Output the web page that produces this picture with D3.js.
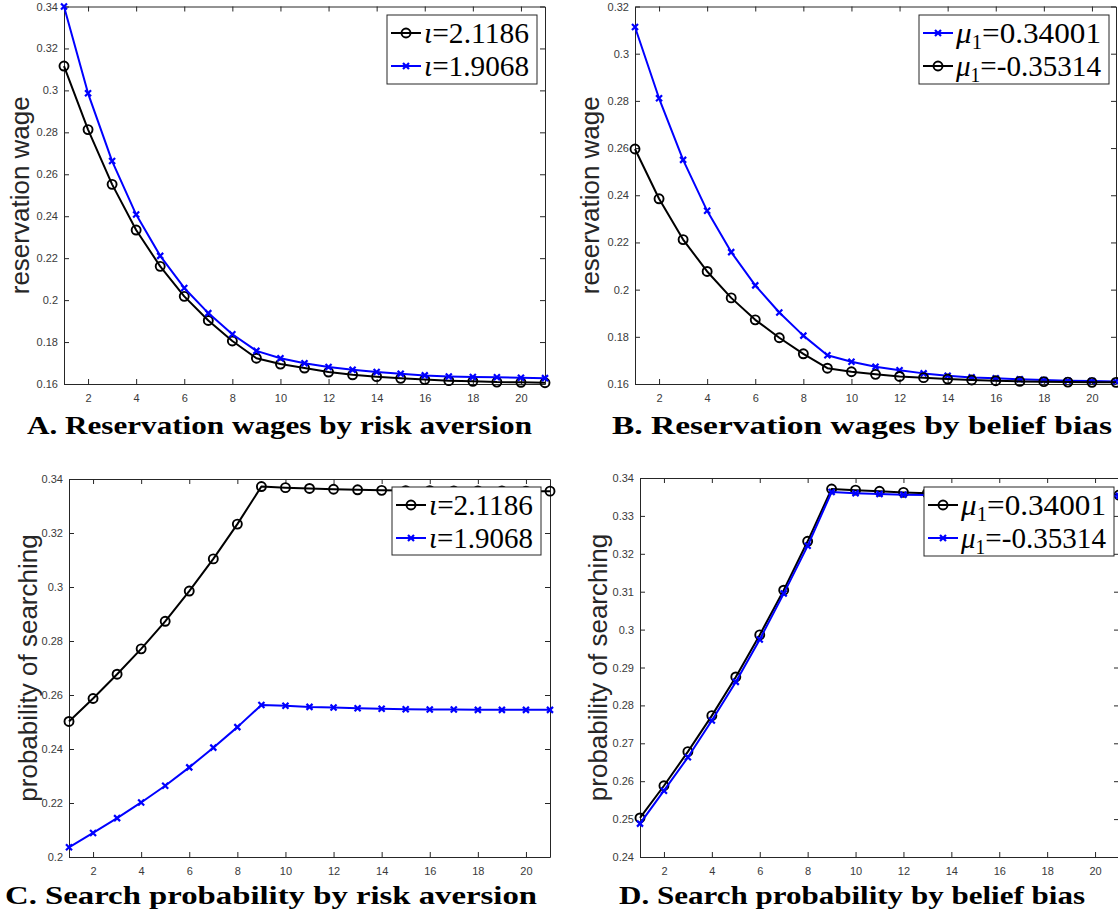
<!DOCTYPE html>
<html>
<head>
<meta charset="utf-8">
<script src="https://cdn.jsdelivr.net/npm/d3@7"></script>
<style>
  body { margin: 0; background: #fff; }
</style>
</head>
<body>
<div class="canvas"></div>
<script>
// x axis: search period
const periods = [1, 2, 3, 4, 5, 6, 7, 8, 9, 10, 11, 12, 13, 14, 15, 16, 17, 18, 19, 20, 21];
const xTicks = [2, 4, 6, 8, 10, 12, 14, 16, 18, 20];

// A. reservation wages, risk aversion
const wageIota21186 = [0.3116, 0.2813, 0.2552, 0.2334, 0.2161, 0.2018, 0.1903, 0.1805, 0.1723, 0.1695, 0.1676,
                       0.1657, 0.1644, 0.1635, 0.1627, 0.1621, 0.1616, 0.1613, 0.1609, 0.1608, 0.1606];
const wageIota19068 = [0.3400, 0.2986, 0.2663, 0.2408, 0.2211, 0.2058, 0.1938, 0.1837, 0.1758, 0.1723, 0.1699,
                       0.1681, 0.1668, 0.1657, 0.1649, 0.1641, 0.1636, 0.1633, 0.1632, 0.1630, 0.1628];
const wageTicksA = [0.16, 0.18, 0.2, 0.22, 0.24, 0.26, 0.28, 0.3, 0.32, 0.34];

// B. reservation wages, belief bias
const wageMu034001 = [0.3113, 0.2811, 0.2550, 0.2334, 0.2159, 0.2018, 0.1903, 0.1805, 0.1722, 0.1694, 0.1673,
                      0.1658, 0.1645, 0.1635, 0.1628, 0.1624, 0.1620, 0.1617, 0.1614, 0.1613, 0.1611];
const wageMuNeg035314 = [0.2596, 0.2385, 0.2212, 0.2077, 0.1965, 0.1872, 0.1796, 0.1728, 0.1667, 0.1652, 0.1641,
                         0.1632, 0.1627, 0.1621, 0.1617, 0.1614, 0.1611, 0.1610, 0.1608, 0.1607, 0.1607];
const wageTicksB = [0.16, 0.18, 0.2, 0.22, 0.24, 0.26, 0.28, 0.3, 0.32];

// C. search probability, risk aversion
const searchIota21186 = [0.2502, 0.2587, 0.2677, 0.2771, 0.2873, 0.2985, 0.3104, 0.3233, 0.3372, 0.3368, 0.3365,
                         0.3362, 0.3360, 0.3358, 0.3357, 0.3357, 0.3356, 0.3356, 0.3356, 0.3355, 0.3355];
const searchIota19068 = [0.2036, 0.2089, 0.2144, 0.2202, 0.2264, 0.2332, 0.2405, 0.2481, 0.2563, 0.2560, 0.2556,
                         0.2554, 0.2551, 0.2549, 0.2547, 0.2546, 0.2546, 0.2545, 0.2545, 0.2545, 0.2545];
const searchTicksC = [0.2, 0.22, 0.24, 0.26, 0.28, 0.3, 0.32, 0.34];

// D. search probability, belief bias
const searchMu034001 = [0.2503, 0.2588, 0.2678, 0.2773, 0.2875, 0.2986, 0.3104, 0.3233, 0.3371, 0.3368, 0.3365,
                        0.3362, 0.3360, 0.3358, 0.3357, 0.3357, 0.3356, 0.3356, 0.3356, 0.3355, 0.3355];
const searchMuNeg035314 = [0.2488, 0.2575, 0.2663, 0.2760, 0.2862, 0.2974, 0.3095, 0.3221, 0.3363, 0.3360, 0.3358,
                           0.3356, 0.3355, 0.3354, 0.3354, 0.3354, 0.3353, 0.3353, 0.3353, 0.3353, 0.3353];
const searchTicksD = [0.24, 0.25, 0.26, 0.27, 0.28, 0.29, 0.3, 0.31, 0.32, 0.33, 0.34];

const axisColor = "#262626";

const svg = d3.select(".canvas").append("svg")
  .attr("width", 1118)
  .attr("height", 915)
  .style("font-family", "'Liberation Sans', Arial, sans-serif");

function translate(x, y) {
  return "translate(" + x + "," + y + ")";
}

function iotaLabel(t, val) {
  t.append("tspan").attr("font-style", "italic").text("ι");
  t.append("tspan").text("=" + val);
}

function muLabel(t, val) {
  t.append("tspan").attr("font-style", "italic").text("μ");
  t.append("tspan").attr("font-size", 20).attr("dy", 6).text("1");
  t.append("tspan").attr("dy", -6).text("=" + val);
}

function drawMarker(sel, kind, color) {
  if (kind === "o") {
    sel.append("circle").attr("r", 4.5)
      .attr("fill", "none").attr("stroke", color).attr("stroke-width", 1.9);
  } else {
    sel.append("path").attr("d", "M-3,-3L3,3M-3,3L3,-3")
      .attr("fill", "none").attr("stroke", color).attr("stroke-width", 2.2);
  }
}

function drawPanel(p) {
  const x = d3.scaleLinear().domain([1, 21]).range([p.left, p.right]);
  const y = d3.scaleLinear().domain([p.yTicks[0], p.yTicks[p.yTicks.length - 1]]).range([p.bottom, p.top]);
  const g = svg.append("g");
  const fmt = d => String(+d.toFixed(2));

  const gx = g.append("g").attr("transform", translate(0, p.bottom))
    .call(d3.axisBottom(x).tickValues(xTicks).tickSizeInner(-5).tickSizeOuter(0).tickPadding(10));
  const gxTop = g.append("g").attr("transform", translate(0, p.top))
    .call(d3.axisTop(x).tickValues(xTicks).tickSizeInner(-5).tickSizeOuter(0).tickFormat(""));
  const gy = g.append("g").attr("transform", translate(p.left, 0))
    .call(d3.axisLeft(y).tickValues(p.yTicks).tickSizeInner(-5).tickSizeOuter(0).tickPadding(6).tickFormat(fmt));
  const gyRight = g.append("g").attr("transform", translate(p.right, 0))
    .call(d3.axisRight(y).tickValues(p.yTicks).tickSizeInner(-5).tickSizeOuter(0).tickFormat(""));

  [gx, gxTop, gy, gyRight].forEach(a => {
    a.selectAll(".domain, .tick line").attr("stroke", axisColor).attr("stroke-width", 1);
    a.selectAll("text").attr("fill", "#3a3a3a").attr("font-size", 11)
      .attr("font-family", "'Liberation Sans', Arial, sans-serif");
  });

  // y label
  g.append("text")
    .attr("transform", translate(p.ylabelX, (p.top + p.bottom) / 2) + " rotate(-90)")
    .attr("text-anchor", "middle")
    .attr("font-size", 26)
    .attr("fill", axisColor)
    .text(p.ylabel);

  // series
  const line = d3.line().x((d, i) => x(periods[i])).y(d => y(d));
  p.series.forEach(s => {
    g.append("path").datum(s.values)
      .attr("d", line)
      .attr("fill", "none")
      .attr("stroke", s.color)
      .attr("stroke-width", 2)
      .attr("stroke-linejoin", "round");
    g.selectAll(null).data(s.values).join("g")
      .attr("transform", (d, i) => translate(x(periods[i]), y(d)))
      .each(function () { drawMarker(d3.select(this), s.marker, s.color); });
  });

  // legend
  const lg = g.append("g").attr("transform", translate(p.legend.x, p.legend.y));
  lg.append("rect")
    .attr("width", p.legend.w).attr("height", p.legend.h)
    .attr("fill", "#fff").attr("stroke", axisColor).attr("stroke-width", 1);
  p.series.forEach((s, i) => {
    const row = lg.append("g").attr("transform", translate(0, 18 + i * 33));
    row.append("line").attr("x1", 4).attr("x2", 34)
      .attr("stroke", s.color).attr("stroke-width", 2);
    drawMarker(row.append("g").attr("transform", translate(19, 0)), s.marker, s.color);
    const t = row.append("text")
      .attr("x", 37).attr("y", 10)
      .attr("textLength", p.legend.w - 45)
      .attr("lengthAdjust", "spacingAndGlyphs")
      .attr("font-family", "'Liberation Serif', 'DejaVu Serif', serif")
      .attr("font-size", 30)
      .attr("fill", "#000");
    s.label(t);
  });

  // panel title
  svg.append("text")
    .attr("x", p.title.x).attr("y", p.title.y)
    .attr("textLength", p.title.w)
    .attr("lengthAdjust", "spacingAndGlyphs")
    .attr("font-family", "'Liberation Serif', 'DejaVu Serif', serif")
    .attr("font-weight", "bold")
    .attr("font-size", 26)
    .attr("fill", "#000")
    .text(p.title.text);
}

drawPanel({
  left: 64, right: 545, top: 6.5, bottom: 384,
  yTicks: wageTicksA, ylabel: "reservation wage", ylabelX: 29,
  series: [
    { values: wageIota21186, color: "#000", marker: "o", label: t => iotaLabel(t, "2.1186") },
    { values: wageIota19068, color: "#0000ff", marker: "x", label: t => iotaLabel(t, "1.9068") }
  ],
  legend: { x: 387, y: 15, w: 150, h: 69 },
  title: { x: 27, y: 434, w: 505, text: "A. Reservation wages by risk aversion" }
});

drawPanel({
  left: 635, right: 1116, top: 6.5, bottom: 384,
  yTicks: wageTicksB, ylabel: "reservation wage", ylabelX: 599,
  series: [
    { values: wageMu034001, color: "#0000ff", marker: "x", label: t => muLabel(t, "0.34001") },
    { values: wageMuNeg035314, color: "#000", marker: "o", label: t => muLabel(t, "-0.35314") }
  ],
  legend: { x: 919, y: 15, w: 190, h: 69 },
  title: { x: 612, y: 434, w: 500, text: "B. Reservation wages by belief bias" }
});

drawPanel({
  left: 69, right: 550, top: 479, bottom: 857,
  yTicks: searchTicksC, ylabel: "probability of searching", ylabelX: 37,
  series: [
    { values: searchIota21186, color: "#000", marker: "o", label: t => iotaLabel(t, "2.1186") },
    { values: searchIota19068, color: "#0000ff", marker: "x", label: t => iotaLabel(t, "1.9068") }
  ],
  legend: { x: 392, y: 487, w: 149, h: 68 },
  title: { x: 5, y: 904, w: 532, text: "C. Search probability by risk aversion" }
});

drawPanel({
  left: 640, right: 1119, top: 478, bottom: 857,
  yTicks: searchTicksD, ylabel: "probability of searching", ylabelX: 607,
  series: [
    { values: searchMu034001, color: "#000", marker: "o", label: t => muLabel(t, "0.34001") },
    { values: searchMuNeg035314, color: "#0000ff", marker: "x", label: t => muLabel(t, "-0.35314") }
  ],
  legend: { x: 924, y: 487, w: 190, h: 69 },
  title: { x: 619, y: 904, w: 466, text: "D. Search probability by belief bias" }
});
</script>
</body>
</html>
